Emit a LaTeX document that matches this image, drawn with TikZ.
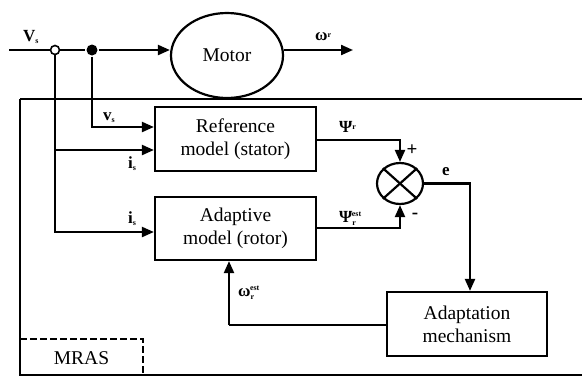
\documentclass[tikz,border=0pt]{standalone}
\usepackage{fontspec}
\setmainfont{Liberation Serif}
\usetikzlibrary{shapes.geometric,arrows.meta}
\begin{document}
\begin{tikzpicture}[x=1pt,y=-1pt,
  line width=2.2pt,
  arr/.style={-{Triangle[length=12pt,width=10pt]}},
  blk/.style={draw,rectangle,align=center,font=\fontsize{19.5}{23}\selectfont,inner sep=0pt},
  lbl/.style={font=\fontsize{17}{19}\selectfont\bfseries,inner sep=1pt},
  sgn/.style={font=\fontsize{19}{21}\selectfont\bfseries,inner sep=1pt}]
\useasboundingbox (0,0) rectangle (582,376);
% outer MRAS frame
\draw (20,99) -- (590,99);
\draw (20,99) -- (20,375) -- (590,375);
\node[blk,draw=none,minimum width=123pt,minimum height=36pt] (mras) at (81.5,358) {MRAS};
\draw[dash pattern=on 7pt off 3pt,line width=2pt] (20,339) -- (143,339) -- (143,375);
% motor
\node[draw,ellipse,minimum width=112pt,minimum height=85pt,inner sep=0pt,font=\fontsize{19.5}{23}\selectfont] (motor) at (227,55.5) {Motor};
\coordinate (vin) at (9,50);
\node[circle,draw,fill=white,line width=1.6pt,minimum size=9pt,inner sep=0pt] (oc) at (55,50) {};
\node[circle,fill=black,minimum size=11pt,inner sep=0pt] (fd) at (92,50) {};
\coordinate (wout) at (353,50);
\draw (vin) -- (oc.west);
\draw (oc.east) -- (fd);
\draw[arr] (fd) -- (fd -| motor.west);
\draw[arr] (motor.east |- wout) -- (wout);
\node[lbl,anchor=base west] (vslbl) at (21,41) {V\raisebox{-2pt}{\fontsize{8}{8}\selectfont s}};
\node[lbl,anchor=base west] (wrlbl) at (313,40) {ω\raisebox{3pt}{\fontsize{8}{8}\selectfont r}};
% blocks
\node[blk,minimum width=161pt,minimum height=64pt] (ref) at (235.5,139) {Reference\\model (stator)};
\node[blk,minimum width=161pt,minimum height=63pt] (ada) at (235.5,228.5) {Adaptive\\model (rotor)};
\node[blk,minimum width=160pt,minimum height=64pt] (mech) at (467,324) {Adaptation\\mechanism};
\node[draw,ellipse,minimum width=46pt,minimum height=41pt,inner sep=0pt] (sum) at (400,183.5) {};
\draw (sum.north west) -- (sum.south east);
\draw (sum.north east) -- (sum.south west);
% inputs
\coordinate (ref1) at (ref.west |- 0,127);
\coordinate (ref2) at (ref.west |- 0,150);
\coordinate (ada1) at (ada.west |- 0,232);
\draw[arr] (fd) |- (ref1);
\draw (oc.south) -- (oc |- ref2);
\draw[arr] (oc |- ref2) -- (ref2);
\draw[arr] (oc |- ref2) |- (ada1);
\node[lbl,anchor=base west] at (101,120) {v\raisebox{-2pt}{\fontsize{8}{8}\selectfont s}};
\node[lbl,anchor=base west] at (126,168) {i\raisebox{-2pt}{\fontsize{8}{8}\selectfont s}};
\node[lbl,anchor=base west] at (126,223) {i\raisebox{-2pt}{\fontsize{8}{8}\selectfont s}};
% psi lines
\coordinate (psr) at (ref.east |- 0,140);
\coordinate (pse) at (ada.east |- 0,228);
\draw[arr] (psr) -| (sum.north);
\draw[arr] (pse) -| (sum.south);
\node[lbl,anchor=base west] at (337,132) {Ψ\raisebox{3pt}{\fontsize{8}{8}\selectfont r}};
\node[lbl,anchor=base west] at (337,222) {Ψ\raisebox{-3pt}{\fontsize{8}{8}\selectfont r}\kern-4pt\raisebox{6pt}{\fontsize{8}{8}\selectfont est}};
\node[sgn] at (412,150) {+};
\node[sgn] at (415,216) {-};
% error
\draw[arr] (sum.east) -| (mech.north -| 470,0);
\node[lbl] at (446,172) {e};
% feedback
\coordinate (fbk) at (229,325);
\draw (mech.west |- fbk) -- (fbk);
\draw[arr] (fbk) -- (fbk |- ada.south);
\node[lbl,anchor=base west] at (236,296) {ω\raisebox{-3pt}{\fontsize{8}{8}\selectfont r}\kern-4pt\raisebox{6pt}{\fontsize{8}{8}\selectfont est}};
\end{tikzpicture}
\end{document}
